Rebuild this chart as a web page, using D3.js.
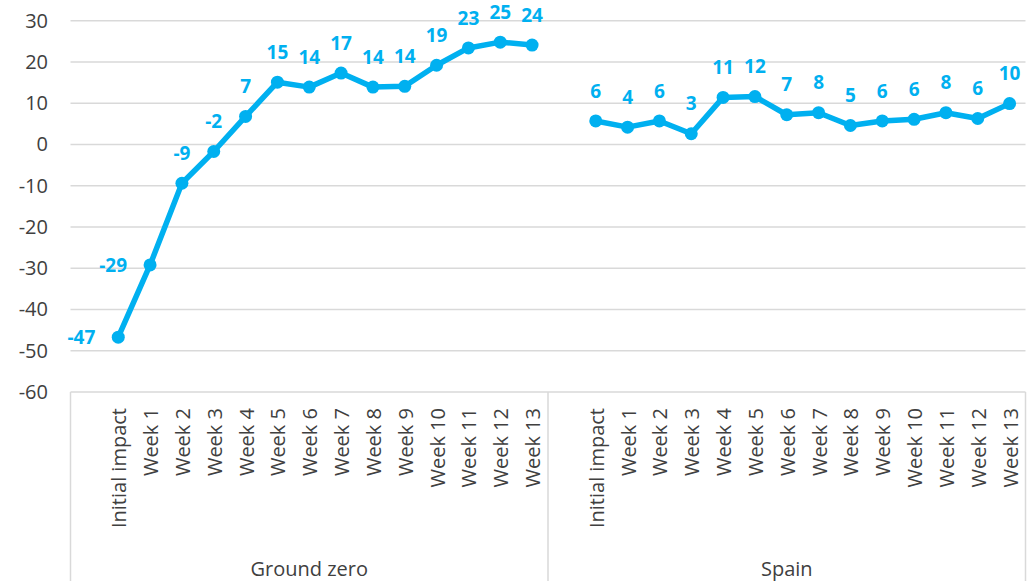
<!DOCTYPE html>
<html>
<head>
<meta charset="utf-8">
<script src="https://cdn.jsdelivr.net/npm/d3@7"></script>
<style>
  body { margin: 0; background: #fff; }
  svg { display: block; font-family: "Open Sans", sans-serif; }
</style>
</head>
<body>
<svg id="chart"></svg>
<script>
// data
const groups = ["Ground zero", "Spain"];
// first slot in each group is an empty category
const categories = ["", "Initial impact", "Week 1", "Week 2", "Week 3", "Week 4", "Week 5",
  "Week 6", "Week 7", "Week 8", "Week 9", "Week 10", "Week 11", "Week 12", "Week 13"];
const groundZero = [null, -46.7, -29.2, -9.4, -1.7, 6.8, 15.1, 13.9, 17.3, 13.9, 14.1, 19.2, 23.4, 24.8, 24.1];
const spain = [null, 5.7, 4.2, 5.7, 2.6, 11.4, 11.6, 7.2, 7.7, 4.6, 5.7, 6.1, 7.7, 6.3, 9.9];
const yTicks = [30, 20, 10, 0, -10, -20, -30, -40, -50, -60];

const width = 1035, height = 581;
const margin = {top: 20.7, right: 9.5, bottom: 189, left: 70.5};
const blue = "#00b0f0", grid = "#d9d9d9", textCol = "#404040";

const svg = d3.select("#chart")
  .attr("width", width)
  .attr("height", height)
  .attr("viewBox", [0, 0, width, height]);

const x0 = d3.scaleBand()
  .domain(groups)
  .range([margin.left, width - margin.right]);

const x1 = d3.scaleBand()
  .domain(d3.range(categories.length))
  .range([0, x0.bandwidth()]);

const y = d3.scaleLinear()
  .domain([-60, 30])
  .range([height - margin.bottom, margin.top]);

const px = (g, i) => x0(g) + x1(i) + x1.bandwidth() / 2;

// gridlines
svg.append("g")
  .selectAll("line")
  .data(yTicks)
  .join("line")
    .attr("x1", margin.left)
    .attr("x2", width - margin.right)
    .attr("y1", d => y(d))
    .attr("y2", d => y(d))
    .attr("stroke", grid)
    .attr("stroke-width", 1.5);

// y axis labels
svg.append("g")
  .selectAll("text")
  .data(yTicks)
  .join("text")
    .attr("x", 48)
    .attr("y", d => y(d))
    .attr("dy", "0.35em")
    .attr("text-anchor", "end")
    .attr("fill", textCol)
    .style("font-size", "20px")
    .text(d => d);

// category box dividers
const bounds = groups.map(g => x0(g)).concat([x0(groups[groups.length - 1]) + x0.bandwidth()]);
svg.append("g")
  .selectAll("line")
  .data(bounds)
  .join("line")
    .attr("x1", d => d)
    .attr("x2", d => d)
    .attr("y1", y(-60))
    .attr("y2", height)
    .attr("stroke", grid)
    .attr("stroke-width", 1.5);

// category labels
const catG = svg.append("g")
  .attr("fill", textCol)
  .style("font-size", "20px");

groups.forEach(g => {
  catG.selectAll(null)
    .data(categories.map((c, i) => ({c, i})).filter(d => d.c))
    .join("text")
      .attr("transform", d => "translate(" + (px(g, d.i) + 1) + "," + 408 + ") rotate(-90)")
      .attr("dy", "0.35em")
      .attr("text-anchor", "end")
      .text(d => d.c);

  catG.append("text")
    .attr("x", x0(g) + x0.bandwidth() / 2)
    .attr("y", 576)
    .attr("text-anchor", "middle")
    .text(g);
});

// series
const line = d3.line()
  .defined(d => d.v !== null)
  .x(d => px(d.g, d.i))
  .y(d => y(d.v));

const fmt = v => String(Math.round(v));

[[groups[0], groundZero], [groups[1], spain]].forEach(([g, vals]) => {
  const pts = vals.map((v, i) => ({g, i, v}));
  const shown = pts.filter(d => d.v !== null);

  svg.append("path")
    .datum(pts)
    .attr("fill", "none")
    .attr("stroke", blue)
    .attr("stroke-width", 5.5)
    .attr("stroke-linejoin", "round")
    .attr("d", line);

  svg.append("g")
    .selectAll("circle")
    .data(shown)
    .join("circle")
      .attr("cx", d => px(d.g, d.i))
      .attr("cy", d => y(d.v))
      .attr("r", 6.5)
      .attr("fill", blue);

  // labels: left of the point on the steep drop, above otherwise
  svg.append("g")
    .attr("fill", blue)
    .style("font-size", "19px")
    .style("font-weight", "bold")
    .selectAll("text")
    .data(shown)
    .join("text")
      .attr("x", d => d.v < -20 ? px(d.g, d.i) - 23 : px(d.g, d.i))
      .attr("y", d => d.v < -20 ? y(d.v) : y(d.v) - 30)
      .attr("dy", "0.35em")
      .attr("text-anchor", d => d.v < -20 ? "end" : "middle")
      .text(d => fmt(d.v));
});
</script>
</body>
</html>
